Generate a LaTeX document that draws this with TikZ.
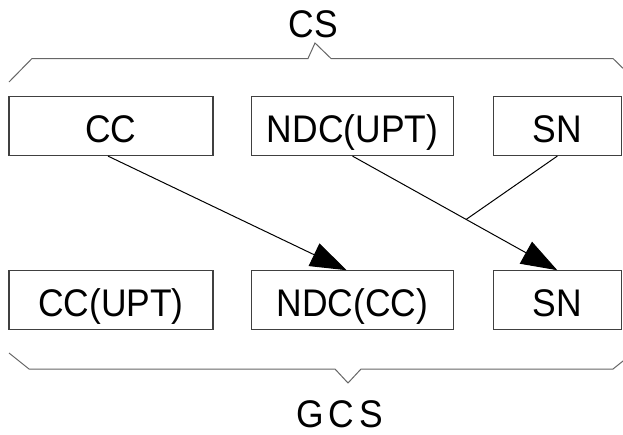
\documentclass[tikz,border=0pt]{standalone}
\usepackage{fontspec}
\setmainfont[FakeStretch=0.92]{Liberation Sans}
\usetikzlibrary{arrows.meta,calc}

\tikzset{
  unit/.style={draw=black!75, line width=1.2pt, inner sep=0pt,
    minimum height=59pt, text height=32pt, text depth=0pt,
    font=\fontsize{38.5}{40}\selectfont},
  brace/.style={draw=black!60, line width=1pt, line join=miter},
  link/.style={draw=black, line width=1pt},
  arr/.style={link, -{Triangle[length=36pt,width=25pt]}},
  title/.style={anchor=base, inner sep=0pt, font=\fontsize{38.5}{40}\selectfont}
}

\begin{document}
\begin{tikzpicture}[x=1pt, y=-1pt]
\useasboundingbox (0,0) rectangle (623,434);
\clip (0,0) rectangle (623,434);

% upper row
\node[unit, minimum width=204pt] (cc)   at (111,126)      {CC};
\node[unit, minimum width=202pt] (ndcu) at (352.5,126)    {NDC(UPT)};
\node[unit, minimum width=128pt] (snt)  at (557.3,126)    {SN};

% lower row
\node[unit, minimum width=204pt] (ccu)  at (111,300.3)    {CC(UPT)};
\node[unit, minimum width=202pt] (ndcc) at (352.5,300.3)  {NDC(CC)};
\node[unit, minimum width=128pt] (snb)  at (557.3,300.3)  {SN};

% group labels
\node[title] (cs)  at (313.5,37)  {CS};
\node[title] (gcs) at (339.5,427) {G\kern5pt C\kern5pt S};

% braces
\draw[brace] (9,82) -- (32,58.5) -- (308,58.5) -- (315,43) -- (331,58.5)
  -- (613,58.5) -- (637,82);
\draw[brace] (9,353) -- (29,369) -- (335,369) -- (348,383) -- (361,369)
  -- (613,369) -- (633,353);

% connectors
\draw[arr] ($(cc.south)+(-3,0)$) -- ($(ndcc.north)+(-6,0)$);
\draw[arr] (ndcu.south) -- (snb.north);
\coordinate (join) at ($(ndcu.south)!0.555!(snb.north)$);
\draw[link] (snt.south) -- (join);
\end{tikzpicture}
\end{document}
